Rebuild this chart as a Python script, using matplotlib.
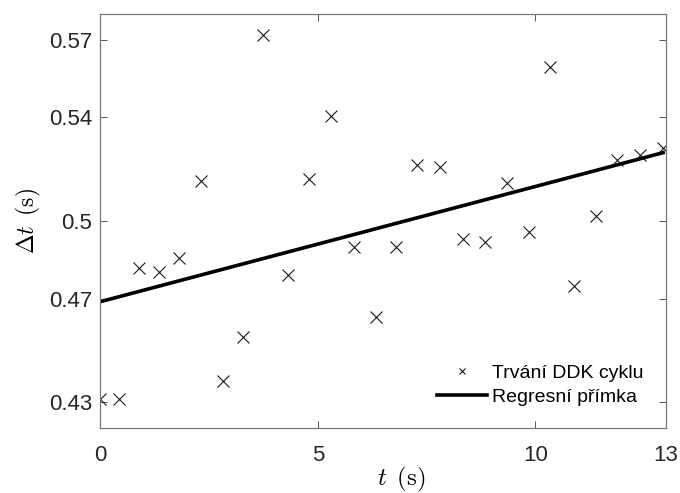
import numpy as np
import matplotlib
matplotlib.use("Agg")
import matplotlib.pyplot as plt

# DDK cycle durations
t_cyc = [0.00, 0.44, 0.88, 1.35, 1.82, 2.32, 2.83, 3.28, 3.73, 4.32, 4.79,
         5.31, 5.84, 6.34, 6.80, 7.29, 7.82, 8.35, 8.84, 9.34, 9.86, 10.34,
         10.90, 11.40, 11.89, 12.40, 12.94]
dt_cyc = [0.4312, 0.4312, 0.4820, 0.4804, 0.4856, 0.5153, 0.4382, 0.4551,
          0.5719, 0.4792, 0.5162, 0.5405, 0.4901, 0.4630, 0.4901, 0.5216,
          0.5207, 0.4929, 0.4918, 0.5146, 0.4956, 0.5596, 0.4750, 0.5019,
          0.5236, 0.5256, 0.5282]

# regression line end points
reg_t = [0.0, 12.94]
reg_y = [0.4688, 0.5264]

xticks = [0, 5, 10, 13]
yticks = [0.43, 0.47, 0.5, 0.54, 0.57]
ytick_labels = ["0.43", "0.47", "0.5", "0.54", "0.57"]

plt.rcParams["font.family"] = ["Liberation Sans", "DejaVu Sans"]
plt.rcParams["mathtext.fontset"] = "cm"

fig = plt.figure(figsize=(6.8, 4.93), dpi=100)
ax = fig.add_axes([0.1475, 0.132, 0.8315, 0.8396])

ax.plot(t_cyc, dt_cyc, ls="none", marker="x", ms=9, mew=0.8, color="#1a1a1a",
        label="Trvání DDK cyklu")
ax.plot(reg_t, reg_y, "-", color="black", lw=2.6, label="Regresní přímka")

ax.set_xlim(0, 13)
ax.set_ylim(0.42, 0.58)
ax.set_xticks(xticks)
ax.set_yticks(yticks)
ax.set_yticklabels(ytick_labels)

ax.tick_params(direction="in", length=5, width=0.7, top=True, right=True,
               labelsize=16, colors="#555555", labelcolor="#262626")
ax.tick_params(axis="y", pad=6)
ax.tick_params(axis="x", pad=12)
for s in ax.spines.values():
    s.set_color("#777777")
    s.set_linewidth(0.9)

ax.set_xlabel(r"$t\ \,(\mathrm{s})$", fontsize=18)
ax.xaxis.set_label_coords(0.532, -0.089)
ax.set_ylabel(r"$\Delta t\ \,(\mathrm{s})$", fontsize=17, labelpad=4)

leg = ax.legend(loc="lower right", frameon=False, fontsize=14, markerscale=0.45,
                handlelength=2.57, handletextpad=0.26, labelspacing=0.3,
                borderaxespad=0.75)

fig.savefig("out.png", dpi=100)
